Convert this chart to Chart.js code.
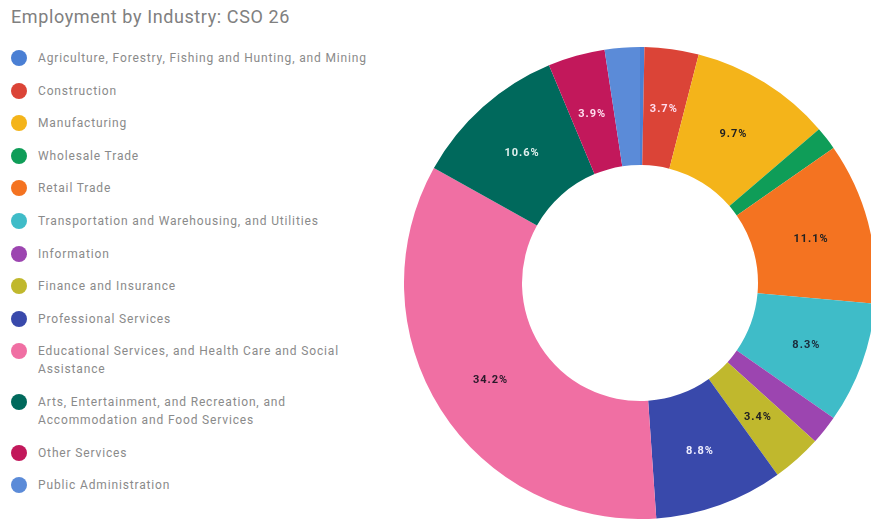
<!DOCTYPE html>
<html>
<head>
<meta charset="utf-8">
<script src="https://cdn.jsdelivr.net/npm/chart.js@4"></script>
<style>
  html, body { margin: 0; padding: 0; background: #fff; width: 871px; height: 520px; overflow: hidden; font-family: Roboto, "Noto Sans", Arial, sans-serif; }
  #title { position: absolute; left: 11px; top: 6px; font-size: 18px; letter-spacing: 0.6px; color: #808080; white-space: nowrap; }
  #legend { position: absolute; left: 10px; top: 49px; margin: 0; padding: 0; list-style: none; }
  #legend li { position: relative; padding-left: 28px; font-size: 12px; letter-spacing: 0.85px; line-height: 18px; color: #8a8a8a; white-space: pre-line; margin-bottom: 14.6px; }
  #legend li span.dot { position: absolute; left: 1px; top: 1px; width: 16px; height: 16px; border-radius: 50%; }
  #wrap { position: absolute; left: 404px; top: 47px; width: 472px; height: 472px; }
</style>
</head>
<body>
<div id="title">Employment by Industry: CSO 26</div>
<ul id="legend"></ul>
<div id="wrap"><canvas id="c"></canvas></div>
<script>
const categories = [
  "Agriculture, Forestry, Fishing and Hunting, and Mining",
  "Construction",
  "Manufacturing",
  "Wholesale Trade",
  "Retail Trade",
  "Transportation and Warehousing, and Utilities",
  "Information",
  "Finance and Insurance",
  "Professional Services",
  "Educational Services, and Health Care and Social\nAssistance",
  "Arts, Entertainment, and Recreation, and\nAccommodation and Food Services",
  "Other Services",
  "Public Administration"
];
const shares = [0.3, 3.7, 9.7, 1.6, 11.1, 8.3, 2.0, 3.4, 8.8, 34.2, 10.6, 3.9, 2.4];
const colors = ["#4a7fd4", "#db4437", "#f4b41a", "#0f9d58", "#f47321", "#3fbcc8", "#9c45b0", "#c0b82d", "#3949ab", "#f06fa3", "#00695c", "#c2185b", "#5b8bd8"];
const labelColors = ["#fff", "#fde", "#222", "#fff", "#222", "#1a2a3a", "#fff", "#222", "#eef", "#2a1a2a", "#e0f0ee", "#fde", "#fff"];
const minLabelShare = 3.0;

const legend = document.getElementById('legend');
categories.forEach((name, i) => {
  const li = document.createElement('li');
  const dot = document.createElement('span');
  dot.className = 'dot';
  dot.style.background = colors[i];
  li.appendChild(dot);
  li.appendChild(document.createTextNode(name));
  legend.appendChild(li);
});

const sliceLabels = {
  id: 'sliceLabels',
  afterDatasetsDraw(chart) {
    const ctx = chart.ctx;
    const meta = chart.getDatasetMeta(0);
    const data = chart.data.datasets[0].data;
    const total = data.reduce((a, b) => a + b, 0);
    ctx.save();
    ctx.font = 'bold 11px Roboto, "Noto Sans", sans-serif';
    if ('letterSpacing' in ctx) ctx.letterSpacing = '1px';
    ctx.textAlign = 'center';
    ctx.textBaseline = 'middle';
    meta.data.forEach((arc, i) => {
      const pct = data[i] / total * 100;
      if (pct < minLabelShare) return;
      const p = arc.tooltipPosition();
      ctx.fillStyle = labelColors[i];
      ctx.fillText(pct.toFixed(1) + '%', p.x, p.y + 2);
    });
    ctx.restore();
  }
};

new Chart(document.getElementById('c'), {
  type: 'doughnut',
  data: {
    labels: categories.map(s => s.replace('\n', ' ')),
    datasets: [{ data: shares, backgroundColor: colors, borderWidth: 0 }]
  },
  options: {
    responsive: true,
    maintainAspectRatio: false,
    animation: false,
    cutout: '50%',
    layout: { padding: 0 },
    plugins: { legend: { display: false }, tooltip: { enabled: false } }
  },
  plugins: [sliceLabels]
});
</script>
</body>
</html>
